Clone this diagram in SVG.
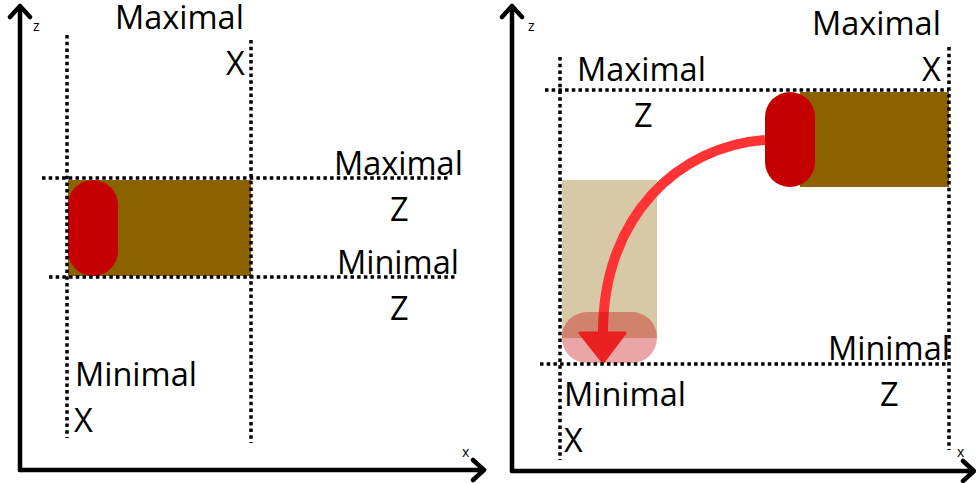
<svg xmlns="http://www.w3.org/2000/svg" width="976" height="483" viewBox="0 0 976 483">
<style>
.t{font-family:"Open Sans","Noto Sans","Liberation Sans",sans-serif;font-size:32.5px;fill:#000}
.s{font-family:"Open Sans","Noto Sans","Liberation Sans",sans-serif;font-size:14px;fill:#000}
.ax{fill:none;stroke:#000;stroke-width:4.5;stroke-linecap:round;stroke-linejoin:round}
.dot{fill:none;stroke:#000;stroke-width:3.5;stroke-dasharray:3.5 3.2}
.brown{fill:#8c6200}
.red{fill:#c40000}
</style>
<rect width="976" height="483" fill="#fff"/>
<g id="left-panel">
  <g id="left-block">
    <rect class="brown" x="68" y="180" width="183" height="96"/>
    <rect class="red" x="68" y="180" width="50" height="96" rx="25" ry="25"/>
  </g>
  <g id="left-guides">
    <line class="dot" x1="67" y1="35" x2="67" y2="438"/>
    <line class="dot" x1="251" y1="40" x2="251" y2="443"/>
    <line class="dot" x1="42" y1="178" x2="448" y2="178"/>
    <line class="dot" x1="49" y1="277" x2="455" y2="277"/>
  </g>
  <g id="left-axes">
    <path class="ax" d="M20 470 V7 M10 17 L20 6 L30 17"/>
    <path class="ax" d="M20 470 H484 M473 460 L484 470 L473 480"/>
    <text class="s" x="33" y="31">z</text>
    <text class="s" x="462" y="457">x</text>
  </g>
  <g id="left-labels">
    <text class="t" x="115" y="29">Maximal</text>
    <text class="t" x="226" y="75">X</text>
    <text class="t" x="334" y="175">Maximal</text>
    <text class="t" x="390" y="221">Z</text>
    <text class="t" x="337" y="274">Minimal</text>
    <text class="t" x="390" y="320">Z</text>
    <text class="t" x="75" y="386">Minimal</text>
    <text class="t" x="74" y="432">X</text>
  </g>
</g>
<g id="right-panel">
  <g id="right-ghost">
    <rect x="562" y="180" width="95" height="158" fill="#8c6200" fill-opacity="0.35"/>
  </g>
  <g id="right-block">
    <rect class="brown" x="800" y="92" width="149" height="95"/>
    <rect class="red" x="765" y="92" width="50" height="95" rx="25" ry="25"/>
  </g>
  <g id="connectors">
    <path d="M765 140 C680 146 603 215 603 332" fill="none" stroke="#ff3333" stroke-width="10"/>
    <path d="M580 333 L625 333 L603 362 Z" fill="#ff3333" stroke="#ff3333" stroke-width="3" stroke-linejoin="round"/>
  </g>
  <g id="right-target">
    <rect x="562" y="312" width="95" height="51" rx="25" ry="25" fill="#c40000" fill-opacity="0.35"/>
  </g>
  <g id="right-guides">
    <line class="dot" x1="560" y1="57" x2="560" y2="460"/>
    <line class="dot" x1="949" y1="47" x2="949" y2="450"/>
    <line class="dot" x1="545" y1="90" x2="949" y2="90"/>
    <line class="dot" x1="540" y1="364" x2="949" y2="364"/>
  </g>
  <g id="right-axes">
    <path class="ax" d="M512 471 V7 M502 17 L512 6 L522 17"/>
    <path class="ax" d="M512 471 H974 M963 461 L974 471 L963 481"/>
    <text class="s" x="528" y="31">z</text>
    <text class="s" x="957" y="457">x</text>
  </g>
  <g id="right-labels">
    <text class="t" x="812" y="35">Maximal</text>
    <text class="t" x="577" y="81">Maximal</text>
    <text class="t" x="922" y="81">X</text>
    <text class="t" x="634" y="127">Z</text>
    <text class="t" x="828" y="360">Minimal</text>
    <text class="t" x="880" y="406">Z</text>
    <text class="t" x="564" y="406">Minimal</text>
    <text class="t" x="564" y="452">X</text>
  </g>
</g>
</svg>
